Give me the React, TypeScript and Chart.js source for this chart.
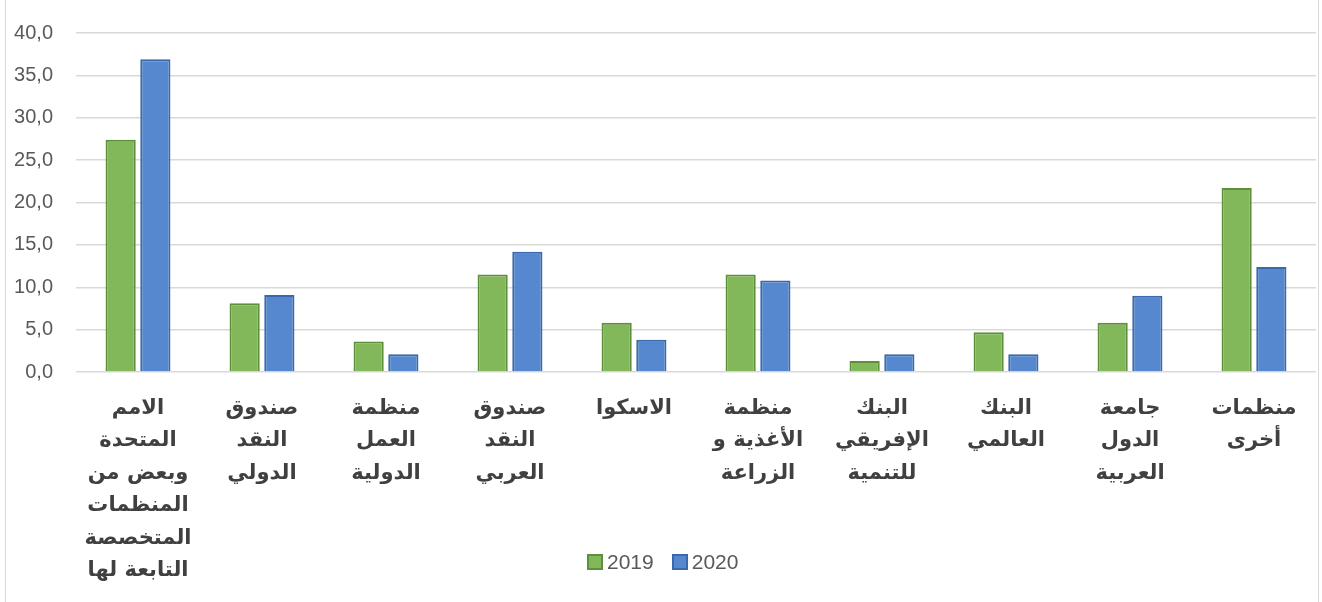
import React, { useEffect, useRef } from "react";
import { Chart, registerables } from "chart.js";

Chart.register(...registerables);

const categories: string[][] = [
  ["الامم", "المتحدة", "وبعض من", "المنظمات", "المتخصصة", "التابعة لها"],
  ["صندوق", "النقد", "الدولي"],
  ["منظمة", "العمل", "الدولية"],
  ["صندوق", "النقد", "العربي"],
  ["الاسكوا"],
  ["منظمة", "الأغذية و", "الزراعة"],
  ["البنك", "الإفريقي", "للتنمية"],
  ["البنك", "العالمي"],
  ["جامعة", "الدول", "العربية"],
  ["منظمات", "أخرى"],
];

const values2019: number[] = [27.4, 8.1, 3.6, 11.5, 5.8, 11.5, 1.3, 4.7, 5.8, 21.7];
const values2020: number[] = [36.9, 9.1, 2.1, 14.2, 3.8, 10.8, 2.1, 2.1, 9.0, 12.4];

const seriesNames = ["2019", "2020"];
const seriesFill = ["#82b75a", "#5588cf"];
const seriesBorder = ["#5e8f3b", "#3a68a8"];
const yTicks = { min: 0, max: 40, step: 5 };

export default function App() {
  const ref = useRef<HTMLCanvasElement>(null);

  useEffect(() => {
    document.body.style.margin = "0";
    if (!ref.current) return;
    const chart = new Chart(ref.current, {
      type: "bar",
      data: {
        labels: categories,
        datasets: [values2019, values2020].map((d, i) => ({
          label: seriesNames[i],
          data: d,
          backgroundColor: seriesFill[i],
          borderColor: seriesBorder[i],
          borderWidth: 2,
          categoryPercentage: 0.56,
          barPercentage: 0.87,
        })),
      },
      options: {
        animation: false,
        responsive: false,
        maintainAspectRatio: false,
        layout: { padding: { top: 25, left: 5, right: 6, bottom: 0 } },
        plugins: {
          tooltip: { enabled: false },
          legend: { display: false },
        },
        scales: {
          x: {
            grid: { display: false },
            border: { display: false },
            ticks: {
              color: "#404040",
              padding: 12,
              maxRotation: 0,
              autoSkip: false,
              font: { family: "'DejaVu Sans', sans-serif", size: 21, weight: "bold", lineHeight: 1.55 },
            },
            afterFit: (scale: any) => {
              scale.height = 230;
            },
          },
          y: {
            min: yTicks.min,
            max: yTicks.max,
            grid: { color: "#d9d9d9", lineWidth: 1.5, drawTicks: false },
            border: { display: false },
            ticks: {
              stepSize: yTicks.step,
              padding: 23,
              color: "#595959",
              font: { family: "'Liberation Sans', sans-serif", size: 20, lineHeight: 1 },
              callback: (v: any) => Number(v).toFixed(1).replace(".", ","),
            },
            afterFit: (scale: any) => {
              scale.width = 71;
            },
          },
        },
      },
    });
    return () => chart.destroy();
  }, []);

  return (
    <div style={{ position: "relative", width: 1322, height: 602, background: "#fff", overflow: "hidden" }}>
      <canvas ref={ref} width={1322} height={602} style={{ display: "block" }} />
      <div style={{ position: "absolute", left: 5, top: 0, width: 1, height: 602, background: "#d9d9d9" }} />
      <div style={{ position: "absolute", left: 1318, top: 0, width: 1, height: 602, background: "#d9d9d9" }} />
      <div
        style={{
          position: "absolute",
          left: 587,
          top: 549,
          display: "flex",
          alignItems: "center",
          fontFamily: "'Liberation Sans', sans-serif",
          fontSize: 21,
          color: "#595959",
          lineHeight: "26px",
        }}
      >
        {seriesNames.map((n, i) => (
          <div key={n} style={{ display: "flex", alignItems: "center", marginRight: i === 0 ? 18 : 0 }}>
            <span
              style={{
                display: "inline-block",
                width: 12,
                height: 12,
                background: seriesFill[i],
                border: `2px solid ${seriesBorder[i]}`,
                marginRight: 4,
              }}
            />
            <span>{n}</span>
          </div>
        ))}
      </div>
    </div>
  );
}
